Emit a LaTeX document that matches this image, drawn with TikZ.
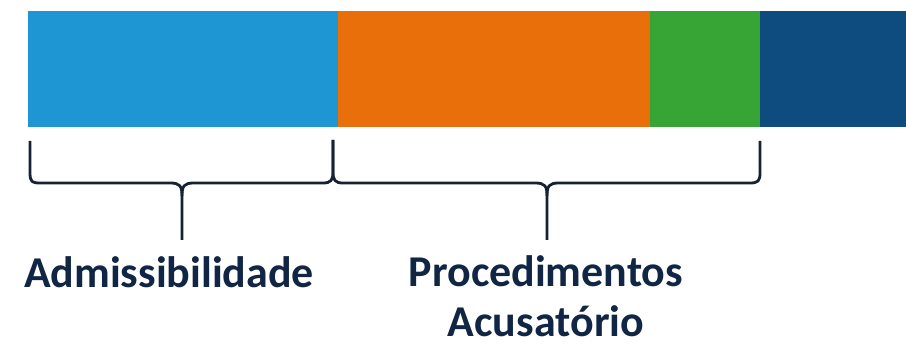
\documentclass[tikz,border=0pt]{standalone}
\usepackage{fontspec}
\setmainfont{Carlito}
\definecolor{cblue}{RGB}{31,150,212}
\definecolor{corange}{RGB}{232,111,10}
\definecolor{cgreen}{RGB}{54,165,53}
\definecolor{cnavy}{RGB}{14,76,128}
\definecolor{ctext}{RGB}{16,38,68}
\definecolor{cbrace}{RGB}{22,34,52}
\tikzset{
  bracepath/.style={draw=cbrace, line width=2.8pt, line join=round},
  lbl/.style={text=ctext, font=\bfseries\fontsize{44}{50}\selectfont, inner sep=0pt, align=center}
}
\begin{document}
\begin{tikzpicture}[x=1pt,y=-1pt]
\useasboundingbox (0,0) rectangle (906,344);
\fill[white] (0,0) rectangle (906,344);
% bar segments
\fill[cblue]   (28,11) rectangle (338,127);
\fill[corange] (338,11) rectangle (650,127);
\fill[cgreen]  (650,11) rectangle (760,127);
\fill[cnavy]   (760,11) rectangle (906,127);
% brace end points
\coordinate (b1l) at (30,141);
\coordinate (b1r) at (333,140);
\coordinate (b1t) at (182,240);
\coordinate (b2l) at (333,140);
\coordinate (b2r) at (760,141);
\coordinate (b2t) at (547,240);
\draw[bracepath] (b1l) -- (30,172) .. controls (30,183) and (32,183) .. (42,183)
  -- (170,183) .. controls (180,183) and (182,186) .. (182,196) -- (b1t);
\draw[bracepath] (182,196) .. controls (182,186) and (184,183) .. (194,183)
  -- (323,183) .. controls (331,183) and (333,180) .. (333,172) -- (b1r);
\draw[bracepath] (b2l) -- (333,172) .. controls (333,180) and (335,183) .. (343,183)
  -- (535,183) .. controls (545,183) and (547,186) .. (547,196) -- (b2t);
\draw[bracepath] (547,196) .. controls (547,186) and (549,183) .. (559,183)
  -- (750,183) .. controls (758,183) and (760,181) .. (760,173) -- (b2r);
% labels
\node[lbl, anchor=base] (adm) at (169,288) {Admissibilidade};
\node[lbl, anchor=base] (proc) at (546,337) {Procedimentos\\Acusatório};
\end{tikzpicture}
\end{document}
